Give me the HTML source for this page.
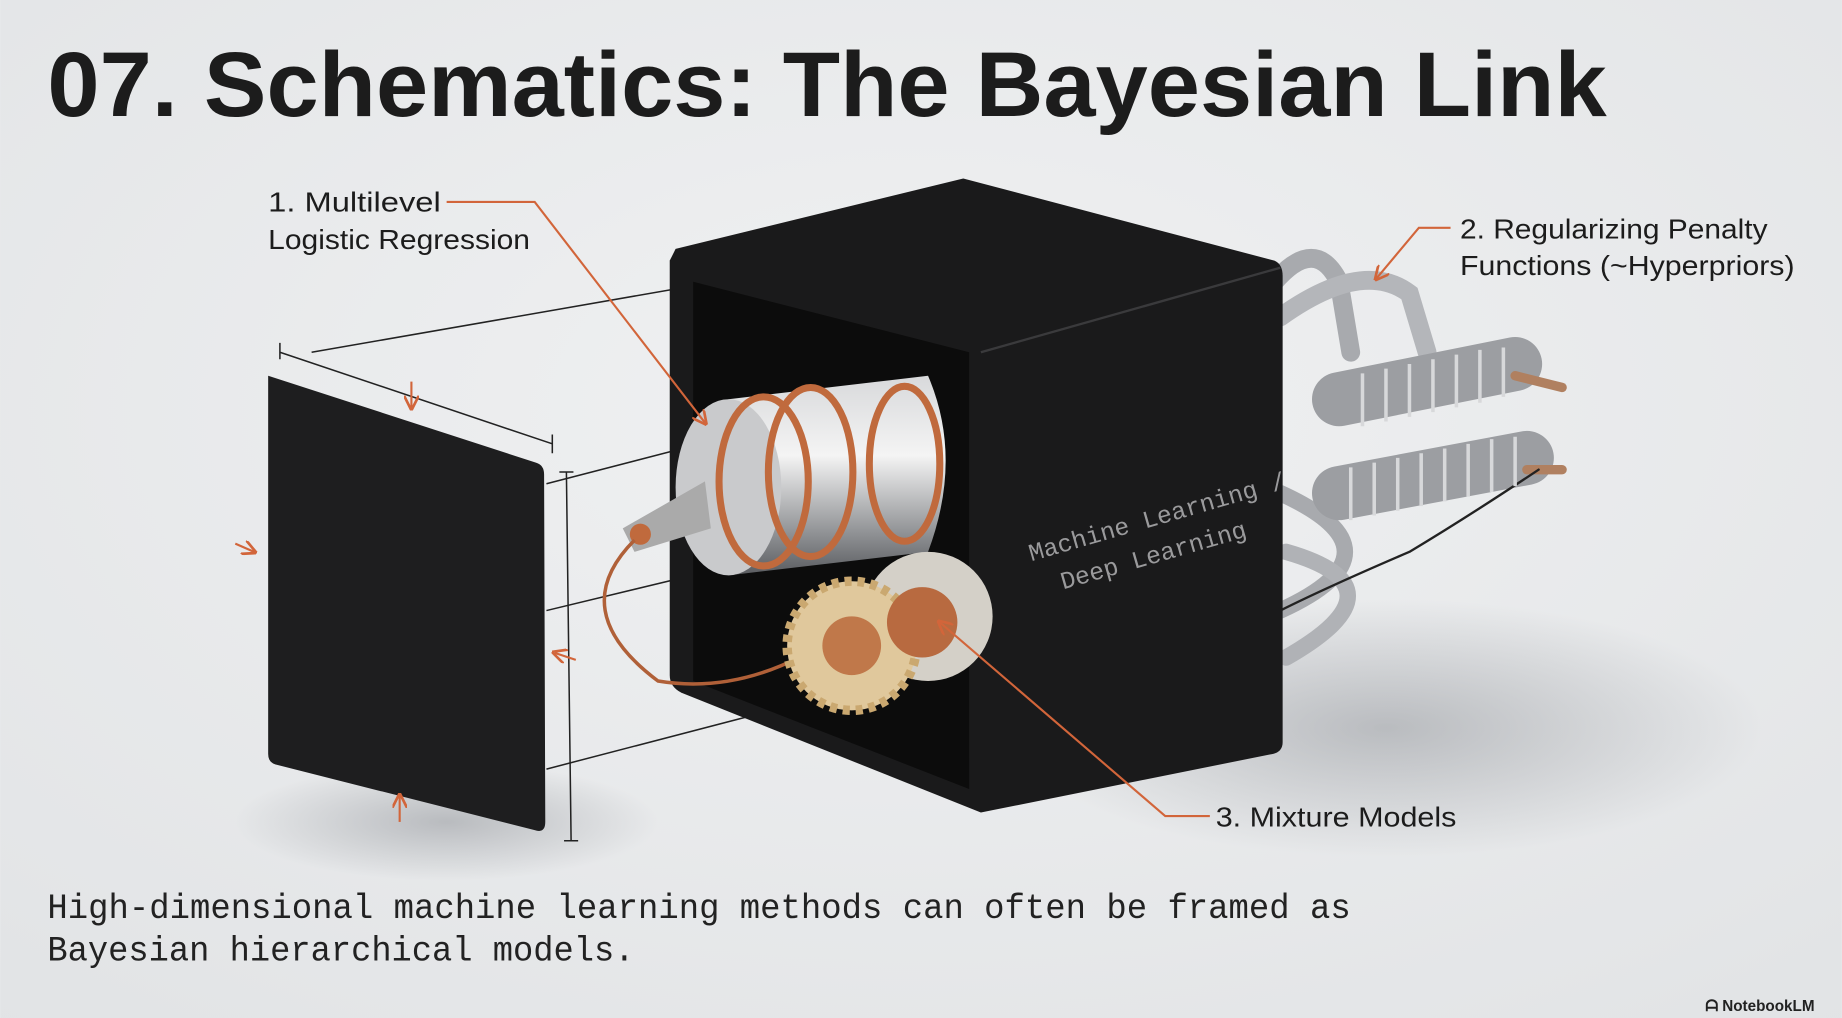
<!DOCTYPE html>
<html><head><meta charset="utf-8"><style>
html,body{margin:0;padding:0;background:#e8e9eb;}
svg{display:block}
</style></head><body>
<svg width="1842" height="1018" viewBox="0 0 1568 867" xmlns="http://www.w3.org/2000/svg">
<defs>
<radialGradient id="bg" cx="0.5" cy="0.4" r="0.8"><stop offset="0" stop-color="#f0f1f2"/><stop offset="1" stop-color="#e1e3e5"/></radialGradient>
<linearGradient id="cyl" x1="0" y1="0" x2="0" y2="1"><stop offset="0" stop-color="#d8d9db"/><stop offset="0.4" stop-color="#f4f4f4"/><stop offset="0.8" stop-color="#8d8f92"/><stop offset="1" stop-color="#5a5c60"/></linearGradient>
<radialGradient id="sh" cx="0.5" cy="0.5" r="0.5"><stop offset="0" stop-color="#9a9da2" stop-opacity="0.6"/><stop offset="1" stop-color="#9a9da2" stop-opacity="0"/></radialGradient>
<marker id="ar" viewBox="0 0 10 10" refX="8" refY="5" markerWidth="7" markerHeight="7" orient="auto"><path d="M0,0 L10,5 L0,10" fill="none" stroke="#d2653a" stroke-width="1.8"/></marker>
</defs>
<rect width="1568" height="867" fill="url(#bg)"/>
<ellipse cx="1180" cy="620" rx="320" ry="110" fill="url(#sh)"/>
<ellipse cx="380" cy="700" rx="180" ry="50" fill="url(#sh)"/>
<text x="40" y="99" font-family="Liberation Sans, sans-serif" font-weight="bold" font-size="78" textLength="1328" lengthAdjust="spacingAndGlyphs" fill="#1c1c1c">07. Schematics: The Bayesian Link</text>

<!-- pipes right -->
<g stroke-linecap="round" fill="none">
<path d="M1085,240 Q1120,200 1140,240 L1150,300" stroke="#a8aaae" stroke-width="16"/>
<path d="M1090,270 Q1160,220 1200,250 L1215,300" stroke="#b4b6ba" stroke-width="16"/>
<path d="M1090,420 Q1200,470 1090,520" stroke="#a8aaae" stroke-width="14"/>
<path d="M1095,470 Q1200,500 1095,560" stroke="#b0b2b6" stroke-width="14"/>
<path d="M1140,340 L1290,310" stroke="#9c9ea2" stroke-width="46"/>
<path d="M1140,420 L1300,390" stroke="#9c9ea2" stroke-width="46"/>
<path d="M1290,320 L1330,330" stroke="#b08060" stroke-width="8"/>
<path d="M1300,400 L1330,400" stroke="#b08060" stroke-width="8"/>
<path d="M1310,400 Q1250,440 1200,470 Q1130,500 1090,520" stroke="#222" stroke-width="2"/>
</g>
<g stroke="#d7d8da" stroke-width="3" fill="none">
<path d="M1160,318 l0,45 M1180,314 l0,45 M1200,310 l0,45 M1220,306 l0,45 M1240,302 l0,45 M1260,298 l0,45 M1280,296 l0,42"/>
<path d="M1150,398 l0,45 M1170,394 l0,45 M1190,390 l0,45 M1210,386 l0,45 M1230,382 l0,45 M1250,378 l0,45 M1270,374 l0,45 M1290,372 l0,42"/>
</g>

<!-- dimension lines -->
<g stroke="#222" stroke-width="1.3" fill="none">
<path d="M238,300 L470,378 M238,292 l0,14 M470,370 l0,16"/>
<path d="M265,300 L610,240 M465,412 L820,320 M465,520 L610,485 M465,655 L830,560"/>
<path d="M482,402 L486,716 M476,402 l12,0 M480,716 l12,0"/>
</g>
<!-- panel -->
<path d="M228,320 L456,394 Q463,396 463,404 L464,700 Q464,710 455,707 L234,651 Q228,649 228,642 Z" fill="#1e1e1f"/>
<!-- box -->
<path d="M575,212 L820,152 L1085,222 Q1092,225 1092,235 L1092,632 Q1092,640 1084,642 L845,690 L835,692 L580,590 Q570,585 570,575 L570,222 Z" fill="#1a1a1b"/>
<path d="M590,240 L825,300 L825,672 L590,580 Z" fill="#0c0c0c"/>
<path d="M835,300 L1090,228" stroke="#3a3a3c" stroke-width="2"/>
<!-- cylinder -->
<path d="M620,340 L790,320 Q820,390 790,470 L620,490 Z" fill="url(#cyl)"/>
<ellipse cx="620" cy="415" rx="45" ry="75" fill="#c9cacc"/>
<path d="M530,450 L600,410 L605,450 L540,470 Z" fill="#aaa"/>
<g fill="none" stroke="#c06a3d" stroke-width="6">
<ellipse cx="650" cy="410" rx="38" ry="72"/><ellipse cx="690" cy="402" rx="36" ry="72"/><ellipse cx="770" cy="395" rx="30" ry="66"/>
</g>
<circle cx="545" cy="455" r="9" fill="#c06a3d"/>
<path d="M540,460 Q480,520 560,580 Q620,590 680,560" stroke="#b06038" stroke-width="3" fill="none"/>
<!-- gears -->
<circle cx="790" cy="525" r="55" fill="#d4d0c8"/>
<circle cx="725" cy="550" r="55" fill="#e0c89c" stroke="#caa870" stroke-width="8" stroke-dasharray="6 5"/>
<circle cx="725" cy="550" r="25" fill="#c0784a"/>
<circle cx="785" cy="530" r="30" fill="#b86a40"/>

<text transform="translate(878,478) rotate(-16)" font-family="Liberation Mono, monospace" font-size="21" fill="#9a9a9c">Machine Learning /</text>
<text transform="translate(905,502) rotate(-16)" font-family="Liberation Mono, monospace" font-size="21" fill="#9a9a9c">Deep Learning</text>

<!-- leaders -->
<g stroke="#d2653a" stroke-width="1.8" fill="none">
<path d="M380,172 L455,172 L600,360" marker-end="url(#ar)"/>
<path d="M1235,194 L1208,194 L1172,237" marker-end="url(#ar)"/>
<path d="M1030,695 L992,695 L800,530" marker-end="url(#ar)"/>
<path d="M350,325 L350,347" marker-end="url(#ar)"/>
<path d="M200,463 L216,470" marker-end="url(#ar)"/>
<path d="M340,700 L340,678" marker-end="url(#ar)"/>
<path d="M490,562 L472,556" marker-end="url(#ar)"/>
</g>
<g font-family="Liberation Sans, sans-serif" font-size="24" fill="#1c1c1c">
<text x="228" y="180" textLength="147" lengthAdjust="spacingAndGlyphs">1. Multilevel</text>
<text x="228" y="212" textLength="223" lengthAdjust="spacingAndGlyphs">Logistic Regression</text>
<text x="1243" y="203" textLength="262" lengthAdjust="spacingAndGlyphs">2. Regularizing Penalty</text>
<text x="1243" y="234" textLength="285" lengthAdjust="spacingAndGlyphs">Functions (~Hyperpriors)</text>
<text x="1035" y="704" textLength="205" lengthAdjust="spacingAndGlyphs">3. Mixture Models</text>
</g>
<g font-family="Liberation Mono, monospace" font-size="30" fill="#222">
<text x="40" y="782" textLength="1110" lengthAdjust="spacingAndGlyphs">High-dimensional machine learning methods can often be framed as</text>
<text x="40" y="818" textLength="500" lengthAdjust="spacingAndGlyphs">Bayesian hierarchical models.</text>
</g>
<text x="1452" y="861" font-family="Liberation Sans, sans-serif" font-weight="bold" font-size="13" fill="#222">ᗩ NotebookLM</text>
</svg>
</body></html>
